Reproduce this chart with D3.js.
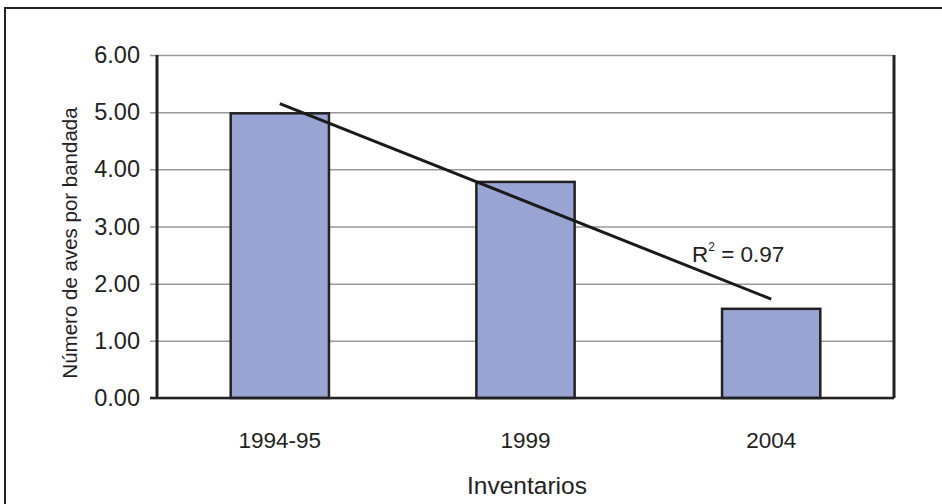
<!DOCTYPE html>
<html>
<head>
<meta charset="utf-8">
<script src="https://cdn.jsdelivr.net/npm/d3@7"></script>
<style>
  html, body { margin: 0; padding: 0; background: #fff; }
  svg { display: block; }
  text { font-family: "Liberation Sans", Arial, sans-serif; fill: #222; }
</style>
</head>
<body>
<svg id="chart" width="942" height="504"></svg>
<script>
const categories = ["1994-95", "1999", "2004"];
const values = [4.98, 3.78, 1.56];
const yTicks = [0, 1, 2, 3, 4, 5, 6];
const yTitle = "Número de aves por bandada";
const xTitle = "Inventarios";
const r2Label = "0.97";

const svg = d3.select("#chart");
const W = 942, H = 504;
const m = { left: 157, right: 48, top: 55, bottom: 106 };
const pw = W - m.left - m.right, ph = H - m.top - m.bottom;

// outer frame
svg.append("rect").attr("x", 5).attr("y", 8).attr("width", 960).attr("height", 520)
  .attr("fill", "none").attr("stroke", "#222").attr("stroke-width", 2);

const g = svg.append("g").attr("transform", `translate(${m.left},${m.top})`);

const x = d3.scaleBand().domain(categories).range([0, pw]).paddingInner(0.6).paddingOuter(0.3);
const y = d3.scaleLinear().domain([0, 6]).range([ph, 0]);

// gridlines + ticks
const yAxis = d3.axisLeft(y).tickValues(yTicks).tickFormat(d3.format(".2f")).tickSize(-pw).tickSizeOuter(0).tickPadding(17);
const ya = g.append("g").call(yAxis);
ya.select(".domain").remove();
ya.selectAll(".tick line").attr("stroke", "#999").attr("stroke-width", 1.5).attr("x1", -7);
ya.selectAll(".tick text").attr("font-size", 23.5).attr("fill", "#222")
  .attr("font-family", '"Liberation Sans", Arial, sans-serif');

// bars
g.selectAll("rect.bar").data(values).join("rect")
  .attr("class", "bar")
  .attr("x", (d, i) => x(categories[i]))
  .attr("y", d => y(d))
  .attr("width", x.bandwidth())
  .attr("height", d => y(0) - y(d))
  .attr("fill", "#99A4D2")
  .attr("stroke", "#222").attr("stroke-width", 2.5);

// plot frame: left, right, bottom
g.append("line").attr("x1", 0).attr("x2", 0).attr("y1", 0).attr("y2", ph).attr("stroke", "#222").attr("stroke-width", 3);
g.append("line").attr("x1", pw).attr("x2", pw).attr("y1", 0).attr("y2", ph).attr("stroke", "#222").attr("stroke-width", 3);
g.append("line").attr("x1", -7).attr("x2", pw).attr("y1", ph).attr("y2", ph).attr("stroke", "#222").attr("stroke-width", 2.5);

// x axis labels
const xAxis = d3.axisBottom(x).tickSize(0).tickPadding(34);
const xa = g.append("g").attr("transform", `translate(0,${ph})`).call(xAxis);
xa.select(".domain").remove();
xa.selectAll(".tick text").attr("font-size", 22.5).attr("fill", "#222")
  .attr("font-family", '"Liberation Sans", Arial, sans-serif');

// linear trend line (least squares over category index)
const n = values.length;
const xs = values.map((d, i) => i + 1);
const mx = d3.mean(xs), my = d3.mean(values);
const slope = d3.sum(xs.map((xi, i) => (xi - mx) * (values[i] - my))) / d3.sum(xs.map(xi => (xi - mx) ** 2));
const icpt = my - slope * mx;
const cx = c => x(c) + x.bandwidth() / 2;
g.append("line")
  .attr("x1", cx(categories[0])).attr("y1", y(icpt + slope * 1))
  .attr("x2", cx(categories[n - 1])).attr("y2", y(icpt + slope * n))
  .attr("stroke", "#1a1a1a").attr("stroke-width", 3);

// R² label
const rt = g.append("text").attr("x", 692 - m.left).attr("y", 262 - m.top).attr("font-size", 22.5);
rt.append("tspan").text("R");
rt.append("tspan").text("2").attr("font-size", 12).attr("dy", -11);
rt.append("tspan").text(" = " + r2Label).attr("dy", 11);

// axis titles
svg.append("text").attr("transform", `translate(77,243) rotate(-90)`)
  .attr("text-anchor", "middle").attr("font-size", 20.5).text(yTitle);
svg.append("text").attr("x", 527).attr("y", 494)
  .attr("text-anchor", "middle").attr("font-size", 24.5).text(xTitle);
</script>
</body>
</html>
